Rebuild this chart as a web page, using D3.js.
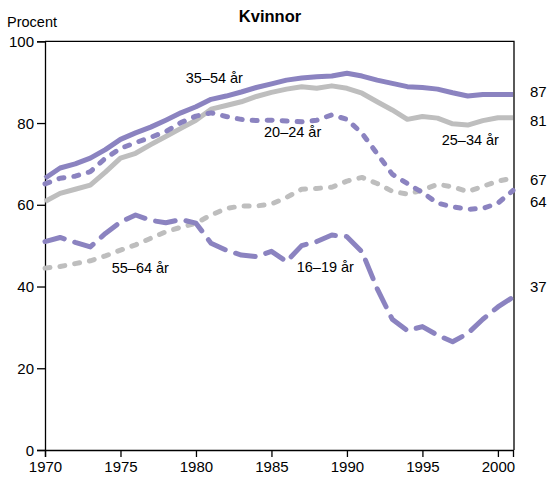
<!DOCTYPE html>
<html><head><meta charset="utf-8">
<script src="https://cdn.jsdelivr.net/npm/d3@7"></script>
<style>
html,body{margin:0;padding:0;background:#fff;}
svg{display:block;font-family:"Liberation Sans",Arial,Helvetica,sans-serif;}
</style></head>
<body><svg id="c" width="547" height="480"></svg>
<script>
const years = d3.range(1970, 2002);
const age35_54 = [66.5,69,70,71.4,73.5,76,77.6,79,80.7,82.5,84,85.8,86.6,87.6,88.7,89.6,90.5,91,91.3,91.5,92.2,91.5,90.5,89.7,88.9,88.7,88.3,87.4,86.6,87,87,87];
const age25_34 = [60.8,62.8,63.8,64.8,68,71.4,72.6,74.7,76.7,78.7,80.7,83.4,84.3,85.2,86.5,87.5,88.3,88.9,88.5,89.1,88.5,87.3,85.2,83.2,80.9,81.6,81.2,79.8,79.5,80.6,81.3,81.3];
const age20_24 = [65.1,66.5,67,68.1,71.4,73.8,75.2,76.5,77.9,80.1,81.7,82.5,81.6,80.9,80.6,80.7,80.5,80.3,80.7,82,80.9,77.5,72.5,67.5,65.2,63,60.4,59.5,58.9,59.1,60.4,63.5];
const age55_64 = [44.5,44.9,45.6,46.3,47.5,48.9,50.2,51.8,53.4,54.5,55.5,57.5,59.1,59.7,59.7,60.2,61.8,63.8,64,64.3,65.8,66.7,65.2,63.3,62.6,63.6,65,64.4,63.2,64.5,65.8,66.5];
const age16_19 = [51,52,50.8,49.7,53,55.8,57.5,56.2,55.6,56.4,55.5,50.6,48.9,47.7,47.3,48.6,46.1,50,51,52.6,52.2,48.5,39.5,32,29.2,30.2,28.1,26.5,28.5,32,35,37.4];
const seriesNames = ["55–64 år","25–34 år","16–19 år","20–24 år","35–54 år"];
const endLabels = ["87","81","67","64","37"];
const endLabelAt = [87.8,80.5,66.1,60.8,40.1];
const yTicks = [0,20,40,60,80,100];
const xTicks = [1970,1975,1980,1985,1990,1995,2000];

const PURPLE = "#8b83c0", GRAY = "#bebebe";
const svg = d3.select("#c");
const L = 45, R = 514, T = 41.3, B = 450;
const x = d3.scaleLinear().domain([1970, 2001]).range([L, 513]);
const y = d3.scaleLinear().domain([0, 100]).range([B, T]);

// frame
svg.append("path").attr("d", `M${L},${T}H${R}V${B}`).attr("fill","none").attr("stroke","#000").attr("stroke-width",1.3);

const yAxis = svg.append("g").attr("transform",`translate(${L},0)`)
  .call(d3.axisLeft(y).tickValues(yTicks).tickSize(8).tickPadding(3).tickFormat(d3.format("d")));
const xAxis = svg.append("g").attr("transform",`translate(0,${B})`)
  .call(d3.axisBottom(x).tickValues(xTicks).tickSize(7).tickPadding(4).tickFormat(d3.format("d")));
[yAxis,xAxis].forEach(a=>{
  a.selectAll(".domain").attr("stroke","#000").attr("stroke-width",1.3);
  a.selectAll(".tick line").attr("stroke","#000").attr("stroke-width",1.3);
  a.selectAll("text").attr("font-size",15).attr("fill","#000").attr("font-family",'"Liberation Sans",Arial,sans-serif');
});
yAxis.selectAll("text").attr("dy","0.34em");

const line = d3.line().x((d,i)=>x(years[i])).y(d=>y(d));
const series = [
  {v: age55_64, c: GRAY, dash: "5,10"},
  {v: age25_34, c: GRAY, dash: null},
  {v: age16_19, c: PURPLE, dash: "20,11"},
  {v: age20_24, c: PURPLE, dash: "5,10"},
  {v: age35_54, c: PURPLE, dash: null}
];
series.forEach(s=>{
  const p = svg.append("path").attr("d", line(s.v)).attr("fill","none")
    .attr("stroke", s.c).attr("stroke-width", 5)
    .attr("stroke-linejoin","round").attr("stroke-linecap", s.dash ? "round" : "butt");
  if (s.dash) p.attr("stroke-dasharray", s.dash);
});

// series labels
const labelPos = [[111.7,273],[441.7,145],[296.7,271.5],[264,137],[185.7,83]];
seriesNames.forEach((n,i)=>{
  svg.append("text").attr("x",labelPos[i][0]).attr("y",labelPos[i][1])
    .attr("font-size",14.5).attr("fill","#000").text(n);
});
// end labels
endLabels.forEach((t,i)=>{
  svg.append("text").attr("x",530).attr("y",y(endLabelAt[i])).attr("dy","0.36em")
    .attr("font-size",15).attr("fill","#000").text(t);
});

svg.append("text").attr("x",270).attr("y",21.7).attr("text-anchor","middle")
  .attr("font-size",16.5).attr("font-weight","bold").text("Kvinnor");
svg.append("text").attr("x",7).attr("y",26.5).attr("font-size",14.5).text("Procent");
</script></body></html>
